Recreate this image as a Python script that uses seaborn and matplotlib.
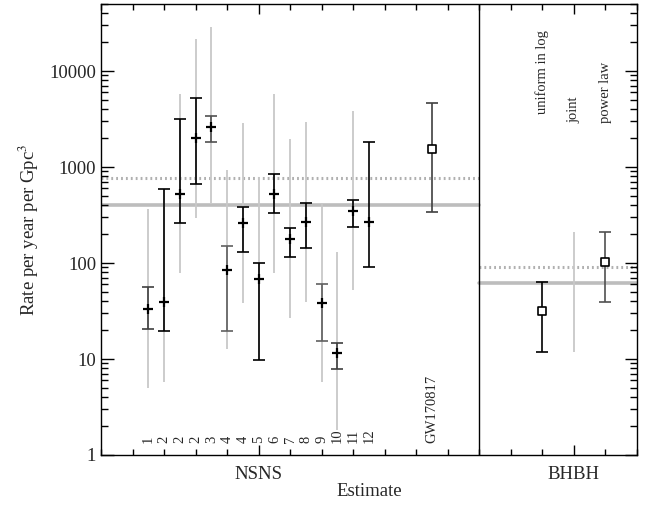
import numpy as np
import pandas as pd
import matplotlib
matplotlib.use('Agg')
import matplotlib.pyplot as plt
from matplotlib.ticker import FixedLocator, LogLocator, NullFormatter
import seaborn as sns

# NSNS estimates (rate per year per Gpc^3)
nsns_pos = [1.5, 2, 2.5, 3, 3.5, 4, 4.5, 5, 5.5, 6, 6.5, 7, 7.5, 8, 8.5]
nsns_labels = ['1', '2', '2', '2', '3', '4', '4', '5', '6', '7', '8', '9', '10', '11', '12']
nsns_mid = [33, 39, 523, 2000, 2610, 85, 261, 68, 523, 178, 267, 38, 11.5, 348, 267]
nsns_lo = [20.5, 19.6, 261, 665, 1820, 19.6, 130, 9.8, 332, 115, 143, 15.4, 7.9, 237, 91]
nsns_hi = [56, 590, 3160, 5230, 3400, 150, 383, 100, 846, 232, 422, 60, 14.7, 453, 1820]
nsns_wide_lo = [5.0, 5.8, 79, 294, 422, 12.7, 38, 9.8, 79, 26.7, 39, 5.8, 1.8, 52, np.nan]
nsns_wide_hi = [365, 590, 5760, 21500, 28700, 930, 2870, 787, 5760, 1960, 2940, 422, 130, 3830, np.nan]
nsns_colors = ['#404040', 'black', 'black', 'black', '#505050', '#606060', 'black', 'black',
               'black', 'black', 'black', '#606060', '#404040', 'black', 'black']

# GW170817
gw_pos = 10.5
gw_mid, gw_lo, gw_hi = 1540, 340, 4680

# BHBH
bh_pos = [14, 16]
bh_labels = ['uniform in log', 'power law']
bh_mid = [32, 102]
bh_lo = [11.8, 39]
bh_hi = [63, 210]
joint_pos = 15
joint_lo, joint_hi = 11.8, 210

# reference levels
nsns_level, nsns_level_dot = 400, 770
bhbh_level, bhbh_level_dot = 62, 91

sns.set_style('ticks')
plt.rcParams['font.family'] = ['Liberation Serif', 'DejaVu Serif']
plt.rcParams['mathtext.fontset'] = 'stix'

fig = plt.figure(figsize=(6.53, 5.07), dpi=100)
ax = fig.add_axes([0.1547, 0.1026, 0.8208, 0.8895])

light = '#c8c8c8'

# wide (grey) ranges
ax.vlines(nsns_pos, nsns_wide_lo, nsns_wide_hi, color=light, lw=1.3, zorder=1)
ax.vlines(joint_pos, joint_lo, joint_hi, color=light, lw=1.3, zorder=1)

# reference levels
ax.plot([0, 12], [nsns_level] * 2, color='#bdbdbd', lw=2.6, zorder=0)
ax.plot([0, 12], [nsns_level_dot] * 2, color='#b0b0b0', lw=2.2, ls=(0, (0.6, 1.0)), zorder=0)
ax.plot([12, 17], [bhbh_level] * 2, color='#bdbdbd', lw=2.6, zorder=0)
ax.plot([12, 17], [bhbh_level_dot] * 2, color='#b0b0b0', lw=2.2, ls=(0, (0.6, 1.0)), zorder=0)

# NSNS error bars
for x, m, lo, hi, c in zip(nsns_pos, nsns_mid, nsns_lo, nsns_hi, nsns_colors):
    ax.errorbar(x, m, yerr=[[m - lo], [hi - m]], fmt='none', ecolor=c,
                elinewidth=1.2, capsize=4, capthick=1.2, zorder=2)
df = pd.DataFrame({'pos': nsns_pos, 'rate': nsns_mid})
sns.scatterplot(data=df, x='pos', y='rate', marker='+', s=45, color='black',
                linewidth=1.6, ax=ax, zorder=3)

ax.errorbar(gw_pos, gw_mid, yerr=[[gw_mid - gw_lo], [gw_hi - gw_mid]], fmt='none',
            ecolor='#404040', elinewidth=1.2, capsize=4, capthick=1.2, zorder=2)
for x, m, lo, hi, c in zip(bh_pos, bh_mid, bh_lo, bh_hi, ['black', '#505050']):
    ax.errorbar(x, m, yerr=[[m - lo], [hi - m]], fmt='none', ecolor=c,
                elinewidth=1.2, capsize=4, capthick=1.2, zorder=2)
sq = pd.DataFrame({'pos': [gw_pos] + bh_pos, 'rate': [gw_mid] + bh_mid})
sns.scatterplot(data=sq, x='pos', y='rate', marker='s', s=40, facecolor='white',
                edgecolor='black', linewidth=1.2, ax=ax, zorder=4)

# divider between the two panels
ax.axvline(12, color='black', lw=1.0)

# labels inside the plot
for x, lab in zip(nsns_pos, nsns_labels):
    ax.text(x, 1.33, lab, rotation=90, ha='center', va='bottom', fontsize=10.5)
ax.text(gw_pos, 1.33, 'GW170817', rotation=90, ha='center', va='bottom', fontsize=10.5)
ax.text(14, 3600, 'uniform in log', rotation=90, ha='center', va='bottom', fontsize=10.5)
ax.text(15, 2850, 'joint', rotation=90, ha='center', va='bottom', fontsize=10.5)
ax.text(16, 2900, 'power law', rotation=90, ha='center', va='bottom', fontsize=10.5)

ax.set_yscale('log')
ax.set_ylim(1, 50000)
ax.set_xlim(0, 17)
ax.yaxis.set_major_locator(FixedLocator([1, 10, 100, 1000, 10000]))
ax.set_yticklabels(['1', '10', '100', '1000', '10000'])
ax.yaxis.set_minor_locator(LogLocator(base=10, subs=np.arange(2, 10)))
ax.yaxis.set_minor_formatter(NullFormatter())
ax.set_xticks([5, 15])
ax.set_xticklabels(['NSNS', 'BHBH'])
ax.xaxis.set_minor_locator(FixedLocator(np.arange(0, 18)))

ax.tick_params(which='both', direction='in', top=True, right=True, labelsize=13.5,
               width=1.0, color='black')
ax.tick_params(axis='x', which='major', length=7, pad=8)
ax.tick_params(axis='x', which='minor', length=4)
ax.tick_params(axis='y', which='major', length=9)
ax.tick_params(axis='y', which='minor', length=5)
for s in ax.spines.values():
    s.set_linewidth(1.0)
    s.set_color('black')

ax.set_xlabel('Estimate', fontsize=13.5, labelpad=0)
ax.set_ylabel('Rate per year per Gpc$^3$', fontsize=13.5, labelpad=6)

fig.savefig('out.png', dpi=100)
